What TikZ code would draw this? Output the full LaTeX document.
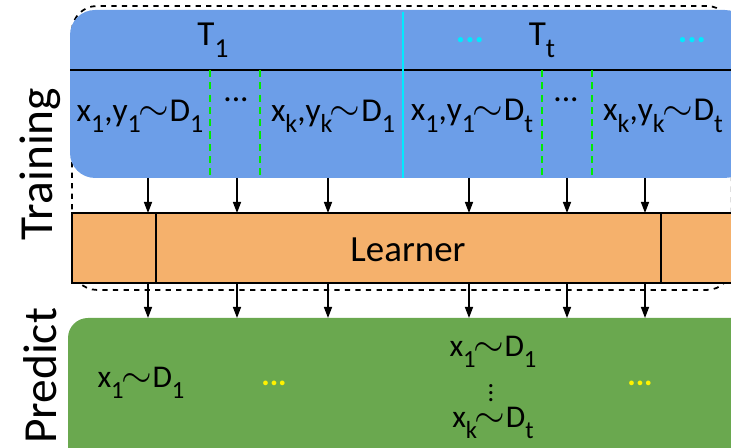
\documentclass[tikz,border=0pt]{standalone}
\usepackage{fontspec}
\setmainfont{Carlito}
\usetikzlibrary{arrows.meta}
\usepackage{xcolor}

\definecolor{taskblue}{RGB}{108,158,232}
\definecolor{learnorange}{RGB}{245,177,108}
\definecolor{predgreen}{RGB}{106,168,79}
\definecolor{splitgreen}{RGB}{0,235,0}
\definecolor{splitcyan}{RGB}{0,235,255}

% subscript, lowered well under the line as in the slide
\newcommand{\lo}[1]{\raisebox{-0.34em}{\scalebox{0.78}{#1}}}
\newcommand{\tld}{\kern-0.08em\raisebox{0.02em}{\scalebox{1.3}[1.25]{$\sim$}}\kern0.02em}

\begin{document}
\begin{tikzpicture}[
    x=0.02cm, y=-0.02cm,
    panel/.style={rectangle, inner sep=0pt, outer sep=0pt, anchor=north west},
    arr/.style={-{Triangle[length=2.2mm,width=1.6mm]}, line width=0.8pt},
    row/.style={font=\fontsize{19}{22}\selectfont, inner sep=0pt},
    head/.style={font=\fontsize{20}{24}\selectfont, inner sep=0pt},
    pred/.style={font=\fontsize{18}{22}\selectfont, inner sep=0pt},
    side/.style={font=\fontsize{27}{30}\selectfont, rotate=90, inner sep=0pt},
    splitline/.style={splitgreen, line width=1.1pt, dash pattern=on 4pt off 3pt}
]
\clip (0,0) rectangle (731,448);

% frame of the training stage
\node[panel, draw, dashed, line width=1pt, rounded corners=0.5cm,
      minimum width=13.2cm, minimum height=5.68cm] (trainframe) at (72,6) {};

% Boxes
\node[panel, fill=taskblue, rounded corners=0.5cm,
      minimum width=13.6cm, minimum height=3.36cm] (tasks) at (70,10) {};
\node[panel, fill=learnorange, draw, line width=0.9pt,
      minimum width=13.5cm, minimum height=1.4cm] (learner) at (72,213) {};
\node[font=\fontsize{21}{24}\selectfont] (learnlabel) at (408,250) {Learner};
\node[panel, fill=predgreen, rounded corners=0.4cm,
      minimum width=13.8cm, minimum height=3cm] (predict) at (68,318) {};

% helper columns
\coordinate (hline) at (0,70);
\coordinate (split) at (403,0);
\coordinate (lsep1) at (156,0);
\coordinate (lsep2) at (661,0);
\foreach \c [count=\i] in {148,237,328,469,567,645}
    \coordinate (col\i) at (\c,0);
\foreach \c [count=\i] in {210,260,542,592}
    \coordinate (gap\i) at (\c,0);

% lines inside the boxes
\draw[line width=1pt] (tasks.west |- hline) -- (tasks.east |- hline);
\draw[splitcyan, line width=1pt] ([yshift=-0.04cm]tasks.north -| split) -- (tasks.south -| split);
\foreach \i in {1,...,4}
    \draw[splitline] (gap\i |- hline) -- (tasks.south -| gap\i);
\draw[line width=0.9pt] (learner.north -| lsep1) -- (learner.south -| lsep1);
\draw[line width=0.9pt] (learner.north -| lsep2) -- (learner.south -| lsep2);

% Task headers
\node[head] (t1) at (213,40) {T\lo{1}};
\node[head, splitcyan] (tdots1) at (470,40) {\textbf{...}};
\node[head] (tt) at (542,40) {T\lo{t}};
\node[head, splitcyan] (tdots2) at (692,40) {\textbf{...}};

% Samples
\node[row] (s1) at (140,116) {x\lo{1},y\lo{1}\tld D\lo{1}};
\node[row] (sdots1) at (236,100) {...};
\node[row] (s2) at (333,116) {x\lo{k},y\lo{k}\tld D\lo{1}};
\node[row] (s3) at (472,116) {x\lo{1},y\lo{1}\tld D\lo{t}};
\node[row] (sdots2) at (566,100) {...};
\node[row] (s4) at (663,116) {x\lo{k},y\lo{k}\tld D\lo{t}};

% Predictions
\node[pred] (p1) at (141,383) {x\lo{1}\tld D\lo{1}};
\node[pred, yellow] (pdots1) at (274,383) {\textbf{...}};
\node[pred] (p2) at (493,352) {x\lo{1}\tld D\lo{1}};
\node[pred, font=\fontsize{15}{15}\selectfont] (pvdots) at (491,388) {$\vdots$};
\node[pred] (p3) at (493,423) {x\lo{k}\tld D\lo{t}};
\node[pred, yellow] (pdots2) at (640,383) {\textbf{...}};

% stage labels
\node[side] (trainlabel) at (40,164) {Training};
\node[side] (predlabel) at (40,376) {Predict};

% Arrows
\foreach \i in {1,...,6} {
    \draw[arr] (tasks.south -| col\i) -- (learner.north -| col\i);
    \draw[arr] (learner.south -| col\i) -- (predict.north -| col\i);
}
\end{tikzpicture}
\end{document}
